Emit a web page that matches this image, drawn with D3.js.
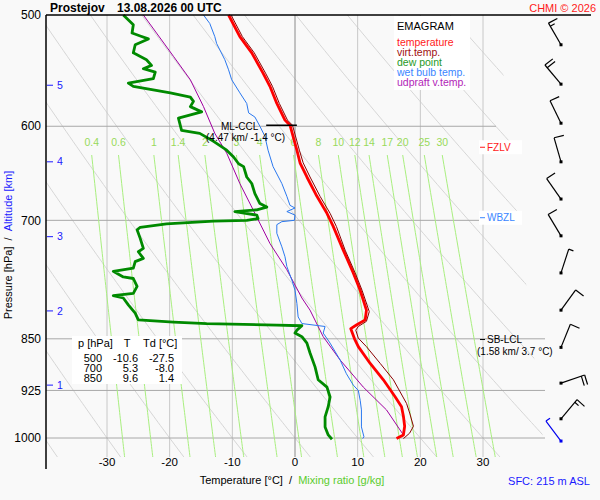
<!DOCTYPE html>
<html>
<head>
<meta charset="utf-8">
<script src="https://cdn.jsdelivr.net/npm/d3@7"></script>
<style>
body { margin: 0; background: #f9f9f9; }
text { font-family: "Liberation Sans", Arial, sans-serif; }
</style>
</head>
<body>
<svg id="chart" width="600" height="500"></svg>
<script>
const pressureTicks = [500, 600, 700, 850, 925, 1000];
const tempTicks = [-30, -20, -10, 0, 10, 20, 30];
const mixRatios = [0.4, 0.6, 1, 1.4, 2, 3, 4, 6, 8, 10, 12, 14, 17, 20, 25, 30];
const altitudeKm = [1, 2, 3, 4, 5];
const altitudeP = [917, 812, 719, 636, 561];

// [pressure hPa, temperature °C]
const temperature = [[500,-10.6],[518,-8.8],[532,-6.9],[550,-5.1],[562,-4.0],[578,-2.9],[594,-1.6],
  [599,-0.8],[624,0.3],[637,0.8],[652,1.9],[673,3.5],[692,5.1],[707,6.1],[735,7.7],[763,9.3],
  [785,10.4],[811,11.4],[824,11.2],[831,9.8],[836,8.9],[850,9.5],[861,10.1],[885,12.0],[909,14.1],
  [935,16.0],[950,17.0],[965,17.3],[981,17.5],[995,17.3],[1001,16.2]];

const virtTemp = [[500,-10.2],[518,-8.4],[532,-6.5],[550,-4.7],[562,-3.6],[578,-2.5],[594,-1.2],
  [599,-0.4],[624,0.7],[637,1.3],[652,2.4],[673,4.0],[692,5.6],[707,6.6],[735,8.0],[763,9.6],
  [785,10.7],[813,11.85],[826,11.4],[833,10.1],[838,9.7],[849,10.1],[861,11.4],[885,13.6],
  [909,15.7],[945,17.8],[960,18.3],[981,18.9],[992,18.3],[1001,17.3]];

const dewPoint = [[500,-27.4],[508,-25.8],[515,-26.0],[517.5,-24.7],[520,-23.4],[525,-25.5],
  [532,-25.8],[538,-23.7],[543,-22.9],[546,-24.2],[549,-22.3],[555,-22.6],[559,-26.6],[562,-25.8],
  [568,-19.9],[572,-16.7],[576,-16.2],[581,-16.7],[586,-14.9],[592,-18.6],[604,-18.1],[607,-15.2],
  [615,-13.0],[624,-10.9],[631,-9.8],[638,-9.0],[641,-8.2],[652,-7.7],[659,-6.9],[670,-6.4],
  [681,-5.6],[685,-4.5],[688,-6.1],[690,-9.6],[694,-6.1],[698,-5.9],[700,-7.7],[701,-13.0],
  [704,-20.5],[708,-24.7],[711,-25.2],[721,-24.7],[733,-24.2],[737,-25.0],[745,-24.2],[749,-25.5],
  [757,-25.8],[761,-29.0],[768,-27.4],[770,-25.8],[780,-25.2],[789,-25.8],[792,-29.0],[795,-27.4],
  [804,-26.6],[815,-25.5],[824,-25.0],[827,-19.4],[829,-14.1],[831,-2.9],[832,1.1],[838,0.3],
  [842,0.0],[847,1.1],[856,1.9],[870,2.4],[890,3.2],[909,3.7],[920,5.1],[935,5.6],[950,5.3],
  [966,4.8],[982,4.8],[995,5.3],[1002,5.9]];

const wetBulb = [[500,-14.6],[507,-13.6],[518,-12.8],[524,-12.5],[538,-11.2],[547,-10.6],[556,-10.1],
  [568,-8.8],[578,-7.7],[587,-7.4],[591,-6.4],[600,-5.6],[610,-4.8],[624,-4.3],[641,-3.5],[659,-2.1],
  [673,-1.3],[683,-0.8],[686,0],[690,-1.3],[694,0],[700,-0.1],[701.5,-2.1],[705,-2.9],[715,-2.9],
  [731,-2.1],[743,-1.6],[755,-1.3],[772,-0.5],[785,0],[802,0.3],[820,0.5],[829,1.1],[833,4.8],
  [842,4.5],[856,5.6],[880,7.2],[900,8.2],[917,9.3],[925,10.1],[940,10.4],[955,10.6],[982,10.6],
  [998,11.0],[1001,10.8]];

const updraft = [[500,-24.2],[515,-22.1],[535,-19.4],[556,-16.7],[581,-14.6],[607,-12.8],[627,-10.9],
  [659,-8.8],[692,-6.4],[727,-4.0],[759,-1.3],[795,1.1],[811,2.4],[847,4.5],[880,7.2],[920,10.9],
  [955,14.6],[995,17.3]];

const tableP = [500, 700, 850];
const tableT = [-10.6, 5.3, 9.6];
const tableTd = [-27.5, -8.0, 1.4];

const windP = [1005, 969, 914, 862, 811, 763, 718, 676, 636, 597, 560, 525];
const windDir = [323, 40, 71, 22, 36, 18, 329, 325, 344, 334, 320, 330];
const windSpd = [5, 15, 20, 10, 10, 5, 10, 10, 10, 10, 20, 15];

const legendNames = ["temperature", "virt.temp.", "dew point", "wet bulb temp.", "udpraft v.temp."];
const legendColors = ["#ff1a1a", "#a01010", "#1f9a1f", "#3a86ff", "#b21eb8"];

// ---- scales ----
const svg = d3.select("#chart");
const x = d3.scaleLinear().domain([-30, 30]).range([107, 483]);
const y = d3.scaleLog().domain([500, 1000]).range([15, 438]);
const pBottom = y.invert(457);
const line = d3.line().x(d => x(d[1])).y(d => y(d[0]));

// background grid helpers
function dewFromMix(w, p) {
    const e = w * p / (622 + w);
    const l = Math.log(e / 6.112);
    return 243.5 * l / (17.67 - l);
}

svg.append("clipPath").attr("id", "gridClip")
    .append("path").attr("d", "M46,15 L497,15 L545,457 L46,457 Z");

// dry adiabats
const grid = svg.append("g");
const adiabatP = d3.range(490, pBottom + 5, 5);
grid.append("g").attr("clip-path", "url(#gridClip)")
    .selectAll("path")
    .data(d3.range(-40, 160, 10))
    .join("path")
    .attr("d", th => line(adiabatP.map(p => [p, (th + 273.15) * Math.pow(p / 1000, 0.2857) - 273.15])))
    .attr("fill", "none")
    .attr("stroke", "#d6d6d6")
    .attr("stroke-width", 1);

// isotherms
grid.selectAll(".iso")
    .data(tempTicks)
    .join("line")
    .attr("x1", d => x(d)).attr("x2", d => x(d))
    .attr("y1", 15).attr("y2", 457)
    .attr("stroke", d => d == 0 ? "#8a8a8a" : "#c8c8c8")
    .attr("stroke-width", 1);

// isobars
const isobarEnd = {600: 496, 700: 486};
grid.selectAll(".bar")
    .data(pressureTicks.slice(1))
    .join("line")
    .attr("x1", 46).attr("x2", d => isobarEnd[d] || 545)
    .attr("y1", d => y(d)).attr("y2", d => y(d))
    .attr("stroke", "#a8a8a8")
    .attr("stroke-width", 1);

// mixing ratio lines
const mixTop = y.invert(155);
const mixP = d3.range(mixTop, pBottom, 5).concat([pBottom]);
grid.selectAll(".mix")
    .data(mixRatios)
    .join("path")
    .attr("d", w => line(mixP.map(p => [p, dewFromMix(w, p)])))
    .attr("fill", "none")
    .attr("stroke", "#a9ef7f")
    .attr("stroke-width", 1);
grid.selectAll(".mixLabel")
    .data(mixRatios)
    .join("text")
    .attr("x", w => x(dewFromMix(w, mixTop)))
    .attr("y", 146)
    .attr("text-anchor", "middle")
    .style("font-size", "10.5px")
    .attr("fill", "#98d95a")
    .text(w => w);

// altitude ticks
const alt = svg.append("g");
alt.selectAll("line").data(altitudeP).join("line")
    .attr("x1", 47).attr("x2", 53)
    .attr("y1", d => y(d)).attr("y2", d => y(d))
    .attr("stroke", "#1a1aff");
alt.selectAll("text").data(altitudeKm).join("text")
    .attr("x", 57).attr("y", (d, i) => y(altitudeP[i]))
    .attr("dy", "0.35em")
    .style("font-size", "10.5px")
    .attr("fill", "#1a1aff")
    .text(d => d);

// ---- profiles ----
const curves = svg.append("g").attr("fill", "none").attr("stroke-linejoin", "round");
curves.append("path").attr("d", line(updraft)).attr("stroke", "#a000a0").attr("stroke-width", 1);
curves.append("path").attr("d", line(wetBulb)).attr("stroke", "#2a78ef").attr("stroke-width", 1);
curves.append("path").attr("d", line(dewPoint)).attr("stroke", "#008a00").attr("stroke-width", 2.8);
curves.append("path").attr("d", line(temperature)).attr("stroke", "#ff0000").attr("stroke-width", 2.8);
curves.append("path").attr("d", line(virtTemp)).attr("stroke", "#8b0000").attr("stroke-width", 1);

// ---- level annotations ----
const ann = svg.append("g").style("font-size", "10px");
ann.append("line").attr("x1", x(-4.6)).attr("x2", x(0.3)).attr("y1", y(599)).attr("y2", y(599))
    .attr("stroke", "#000").attr("stroke-width", 1.5);
ann.append("text").attr("x", 221).attr("y", y(599) + 5).text("ML-CCL");
ann.append("text").attr("x", 206).attr("y", y(599) + 16).text("(4.47 km/ -1.4 °C)");

const levelNames = ["FZLV", "WBZL", "SB-LCL"];
const levelP = [621, 697, 851];
const levelColors = ["#ff1a1a", "#3a86ff", "#000"];
levelNames.forEach((name, i) => {
    const yy = y(levelP[i]);
    if (i < 2) ann.append("rect").attr("x", 479).attr("y", yy - 7).attr("width", 43).attr("height", 14).attr("fill", "#fff");
    ann.append("line").attr("x1", 480).attr("x2", 485).attr("y1", yy).attr("y2", yy).attr("stroke", levelColors[i]);
    ann.append("text").attr("x", 487).attr("y", yy).attr("dy", "0.35em").attr("fill", levelColors[i]).text(name);
});
ann.append("text").attr("x", 477).attr("y", y(851) + 15).text("(1.58 km/ 3.7 °C)");

// ---- legend ----
const leg = svg.append("g");
leg.append("rect").attr("x", 394).attr("y", 16).attr("width", 76).attr("height", 74).attr("fill", "#fff");
leg.append("text").attr("x", 397).attr("y", 30).style("font-size", "11px").text("EMAGRAM");
leg.selectAll(".item").data(legendNames).join("text")
    .attr("x", 397).attr("y", (d, i) => 46 + i * 10)
    .style("font-size", "10.5px")
    .attr("fill", (d, i) => legendColors[i])
    .text(d => d);

// ---- value table ----
const tab = svg.append("g").style("font-size", "11px");
tab.append("rect").attr("x", 72).attr("y", 336).attr("width", 110).attr("height", 48).attr("fill", "#fff");
tab.append("text").attr("x", 78).attr("y", 347).text("p [hPa]");
tab.append("text").attr("x", 127).attr("y", 347).attr("text-anchor", "middle").text("T");
tab.append("text").attr("x", 143).attr("y", 347).text("Td [°C]");
tableP.forEach((p, i) => {
    const yy = 362 + i * 10;
    tab.append("text").attr("x", 102).attr("y", yy).attr("text-anchor", "end").text(p);
    tab.append("text").attr("x", 138).attr("y", yy).attr("text-anchor", "end").text(tableT[i].toFixed(1));
    tab.append("text").attr("x", 174).attr("y", yy).attr("text-anchor", "end").text(tableTd[i].toFixed(1));
});

// ---- wind barbs ----
const barbs = svg.append("g").attr("stroke-width", 1.2);
function drawBarb(x0, y0, dir, spd, color) {
    const a = dir * Math.PI / 180;
    const ux = Math.sin(a), uy = -Math.cos(a);
    const staff = 25;
    const tx = x0 + ux * staff, ty = y0 + uy * staff;
    barbs.append("line").attr("x1", x0).attr("y1", y0).attr("x2", tx).attr("y2", ty).attr("stroke", color);
    const b = a + 92 * Math.PI / 180;
    const bx = Math.sin(b), by = -Math.cos(b);
    let rem = spd, pos = 0;
    while (rem >= 5) {
        const len = rem >= 10 ? 10 : 5;
        const sx = tx - ux * pos, sy = ty - uy * pos;
        barbs.append("line").attr("x1", sx).attr("y1", sy)
            .attr("x2", sx + bx * len).attr("y2", sy + by * len).attr("stroke", color);
        rem -= len >= 10 ? 10 : 5;
        pos += 3.5;
    }
    barbs.append("rect").attr("x", x0 - 1.5).attr("y", y0 - 1.5).attr("width", 3).attr("height", 3).attr("fill", color);
}
windP.forEach((p, i) => drawBarb(561, y(p), windDir[i], windSpd[i], i == 0 ? "#0000ee" : "#000"));

// ---- axes and titles ----
const axes = svg.append("g");
axes.append("line").attr("x1", 46).attr("x2", 46).attr("y1", 15).attr("y2", 469).attr("stroke", "#000").attr("stroke-width", 1.5);
axes.append("line").attr("x1", 46).attr("x2", 591).attr("y1", 15).attr("y2", 15).attr("stroke", "#000").attr("stroke-width", 1.5);

axes.selectAll(".pt").data(pressureTicks).join("text")
    .attr("x", 41).attr("y", d => y(d)).attr("dy", "0.35em")
    .attr("text-anchor", "end").style("font-size", "12px")
    .text(d => d);
axes.selectAll(".tt").data(tempTicks).join("text")
    .attr("x", d => x(d)).attr("y", 466)
    .attr("text-anchor", "middle").style("font-size", "11.5px")
    .text(d => d);

const yTitle = axes.append("text")
    .attr("transform", "translate(12,245) rotate(-90)")
    .attr("text-anchor", "middle").style("font-size", "11px");
yTitle.append("tspan").text("Pressure [hPa]\u00a0\u00a0/\u00a0\u00a0");
yTitle.append("tspan").attr("fill", "#1a1aff").text("Altitude [km]");

const xTitle = axes.append("text")
    .attr("x", 292).attr("y", 484)
    .attr("text-anchor", "middle").style("font-size", "11px");
xTitle.append("tspan").text("Temperature [°C]\u00a0\u00a0/\u00a0\u00a0");
xTitle.append("tspan").attr("fill", "#5bcc2e").text("Mixing ratio [g/kg]");

axes.append("text").attr("x", 590).attr("y", 485).attr("text-anchor", "end")
    .style("font-size", "11px").attr("fill", "#1a1aff").text("SFC: 215 m ASL");

axes.append("text").attr("x", 50).attr("y", 12).style("font-size", "12px").style("font-weight", "bold")
    .text("Prostejov");
axes.append("text").attr("x", 117).attr("y", 12).style("font-size", "12px").style("font-weight", "bold")
    .text("13.08.2026 00 UTC");
axes.append("text").attr("x", 596).attr("y", 12).attr("text-anchor", "end")
    .style("font-size", "11px").attr("fill", "#ff1a1a").text("CHMI © 2026");
</script>
</body>
</html>
